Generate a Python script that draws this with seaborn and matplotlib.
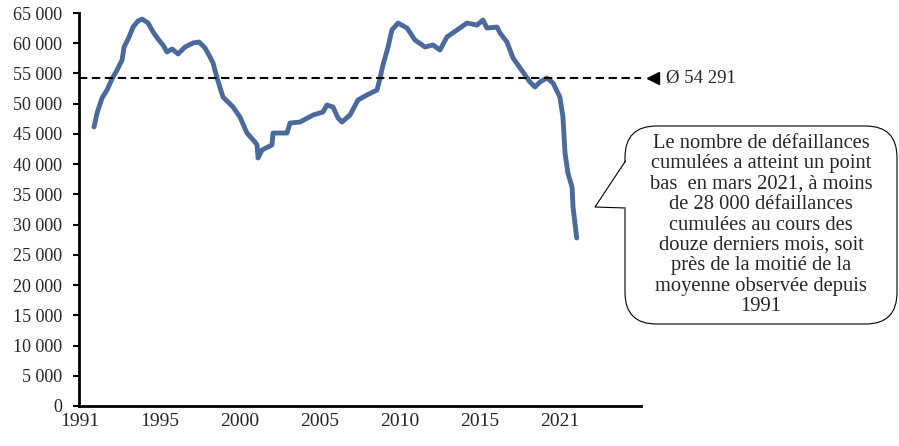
import matplotlib
matplotlib.use("Agg")
import matplotlib.pyplot as plt
from matplotlib.patches import FancyBboxPatch, Polygon
from matplotlib.lines import Line2D
from matplotlib.ticker import FuncFormatter
import pandas as pd
import seaborn as sns

# cumul sur 12 mois des défaillances
years = [1991.0, 1991.19, 1991.5, 1991.81, 1992.12, 1992.44, 1992.75, 1992.88, 1993.19,
         1993.44, 1993.75, 1994.0, 1994.38, 1994.69, 1995.0, 1995.31, 1995.56, 1995.88,
         1996.25, 1996.69, 1997.19, 1997.56, 1997.94, 1998.25, 1998.44, 1998.69, 1999.06,
         1999.69, 2000.12, 2000.56, 2001.06, 2001.19, 2001.25, 2001.5, 2002.12, 2002.19,
         2003.06, 2003.25, 2003.88, 2004.69, 2005.31, 2005.56, 2005.94, 2006.25, 2006.5,
         2007.0, 2007.5, 2008.06, 2008.69, 2008.88, 2009.06, 2009.38, 2009.62, 2010.0,
         2010.56, 2011.06, 2011.69, 2012.19, 2012.62, 2013.06, 2013.69, 2014.31, 2014.94,
         2015.31, 2015.56, 2016.19, 2016.38, 2016.81, 2017.19, 2017.81, 2018.25, 2018.56,
         2018.88, 2019.31, 2019.69, 2020.12, 2020.31, 2020.44, 2020.62, 2020.88, 2020.94,
         2021.06, 2021.17]
failures = [46150, 48460, 50940, 52260, 54080, 55570, 57220, 59380, 61030,
            62680, 63680, 64000, 63340, 61860, 60700, 59700, 58550, 59050,
            58220, 59380, 60040, 60200, 59210, 57720, 56730, 54250, 51100,
            49450, 47800, 45150, 43660, 43170, 41020, 42340, 43170, 45150,
            45150, 46800, 46970, 48130, 48620, 49780, 49450, 47630, 46970,
            48130, 50610, 51440, 52260, 54250, 56400, 59380, 62190, 63340,
            62520, 60530, 59380, 59710, 58880, 61030, 62190, 63340, 63010,
            63840, 62520, 62680, 61690, 60200, 57560, 55240, 53590, 52760,
            53590, 54250, 53420, 51100, 47800, 41840, 38540, 36220, 32910,
            30270, 27790]
mean_value = 54291

tick_pos = [1990.12, 1995.12, 2000.12, 2005.12, 2010.12, 2015.12, 2020.12]
tick_labels = ["1991", "1995", "2000", "2005", "2010", "2015", "2021"]

note = ("Le nombre de défaillances\n"
        "cumulées a atteint un point\n"
        "bas  en mars 2021, à moins\n"
        "de 28 000 défaillances\n"
        "cumulées au cours des\n"
        "douze derniers mois, soit\n"
        "près de la moitié de la\n"
        "moyenne observée depuis\n"
        "1991")

df = pd.DataFrame({"annee": years, "defaillances": failures})

sns.set_style("white")
plt.rcParams["font.family"] = ["Liberation Serif", "DejaVu Serif"]
W, H = 899, 446
fig = plt.figure(figsize=(W / 100, H / 100), dpi=100)
ax = fig.add_axes([79 / W, 40 / H, 562 / W, 393 / H])

sns.lineplot(data=df, x="annee", y="defaillances", ax=ax, color="#4A6A9B", lw=3.5)
ax.axhline(mean_value, color="black", lw=1.5, dashes=(4, 2.2))

ax.set_xlim(1990.06, 2025.19)
ax.set_ylim(0, 65000)
ax.set_yticks(range(0, 65001, 5000))
ax.yaxis.set_major_formatter(FuncFormatter(lambda v, p: f"{v:,.0f}".replace(",", " ")))
ax.set_xticks(tick_pos)
ax.set_xticklabels(tick_labels)
ax.tick_params(axis="y", length=4.5, width=1.5, pad=7.5, labelsize=13, color="black", left=True)
ax.tick_params(axis="x", length=0, pad=5, labelsize=14)
ax.set_xlabel("")
ax.set_ylabel("")
for s in ["top", "right"]:
    ax.spines[s].set_visible(False)
for s in ["left", "bottom"]:
    ax.spines[s].set_linewidth(2)
    ax.spines[s].set_color("black")

# repère de la moyenne
ax.plot([1.021], [mean_value], marker="<", ms=9, color="black",
        transform=ax.get_yaxis_transform(), clip_on=False)
ax.text(1.045, mean_value, "Ø 54 291", transform=ax.get_yaxis_transform(),
        ha="left", va="center", fontsize=13.5)

# bulle de commentaire
def fx(px):
    return px / W

def fy(py):
    return 1 - py / H

box = FancyBboxPatch((fx(625), fy(324)), fx(897) - fx(625), fy(126) - fy(324),
                     boxstyle="round,pad=0,rounding_size=0.035", transform=fig.transFigure,
                     facecolor="white", edgecolor="black", lw=0.8, mutation_aspect=W / H)
fig.add_artist(box)
tail = [(fx(627), fy(160)), (fx(595), fy(207)), (fx(627), fy(209))]
fig.add_artist(Polygon(tail, closed=True, transform=fig.transFigure,
                       facecolor="white", edgecolor="none"))
fig.add_artist(Line2D([fx(625.5), fx(595), fx(625.5)], [fy(161), fy(207), fy(208)],
                      transform=fig.transFigure, color="black", lw=0.8))
fig.text(fx(761), fy(225), note, ha="center", va="center", fontsize=14.8, linespacing=1.1)

fig.savefig("out.png", dpi=100)
